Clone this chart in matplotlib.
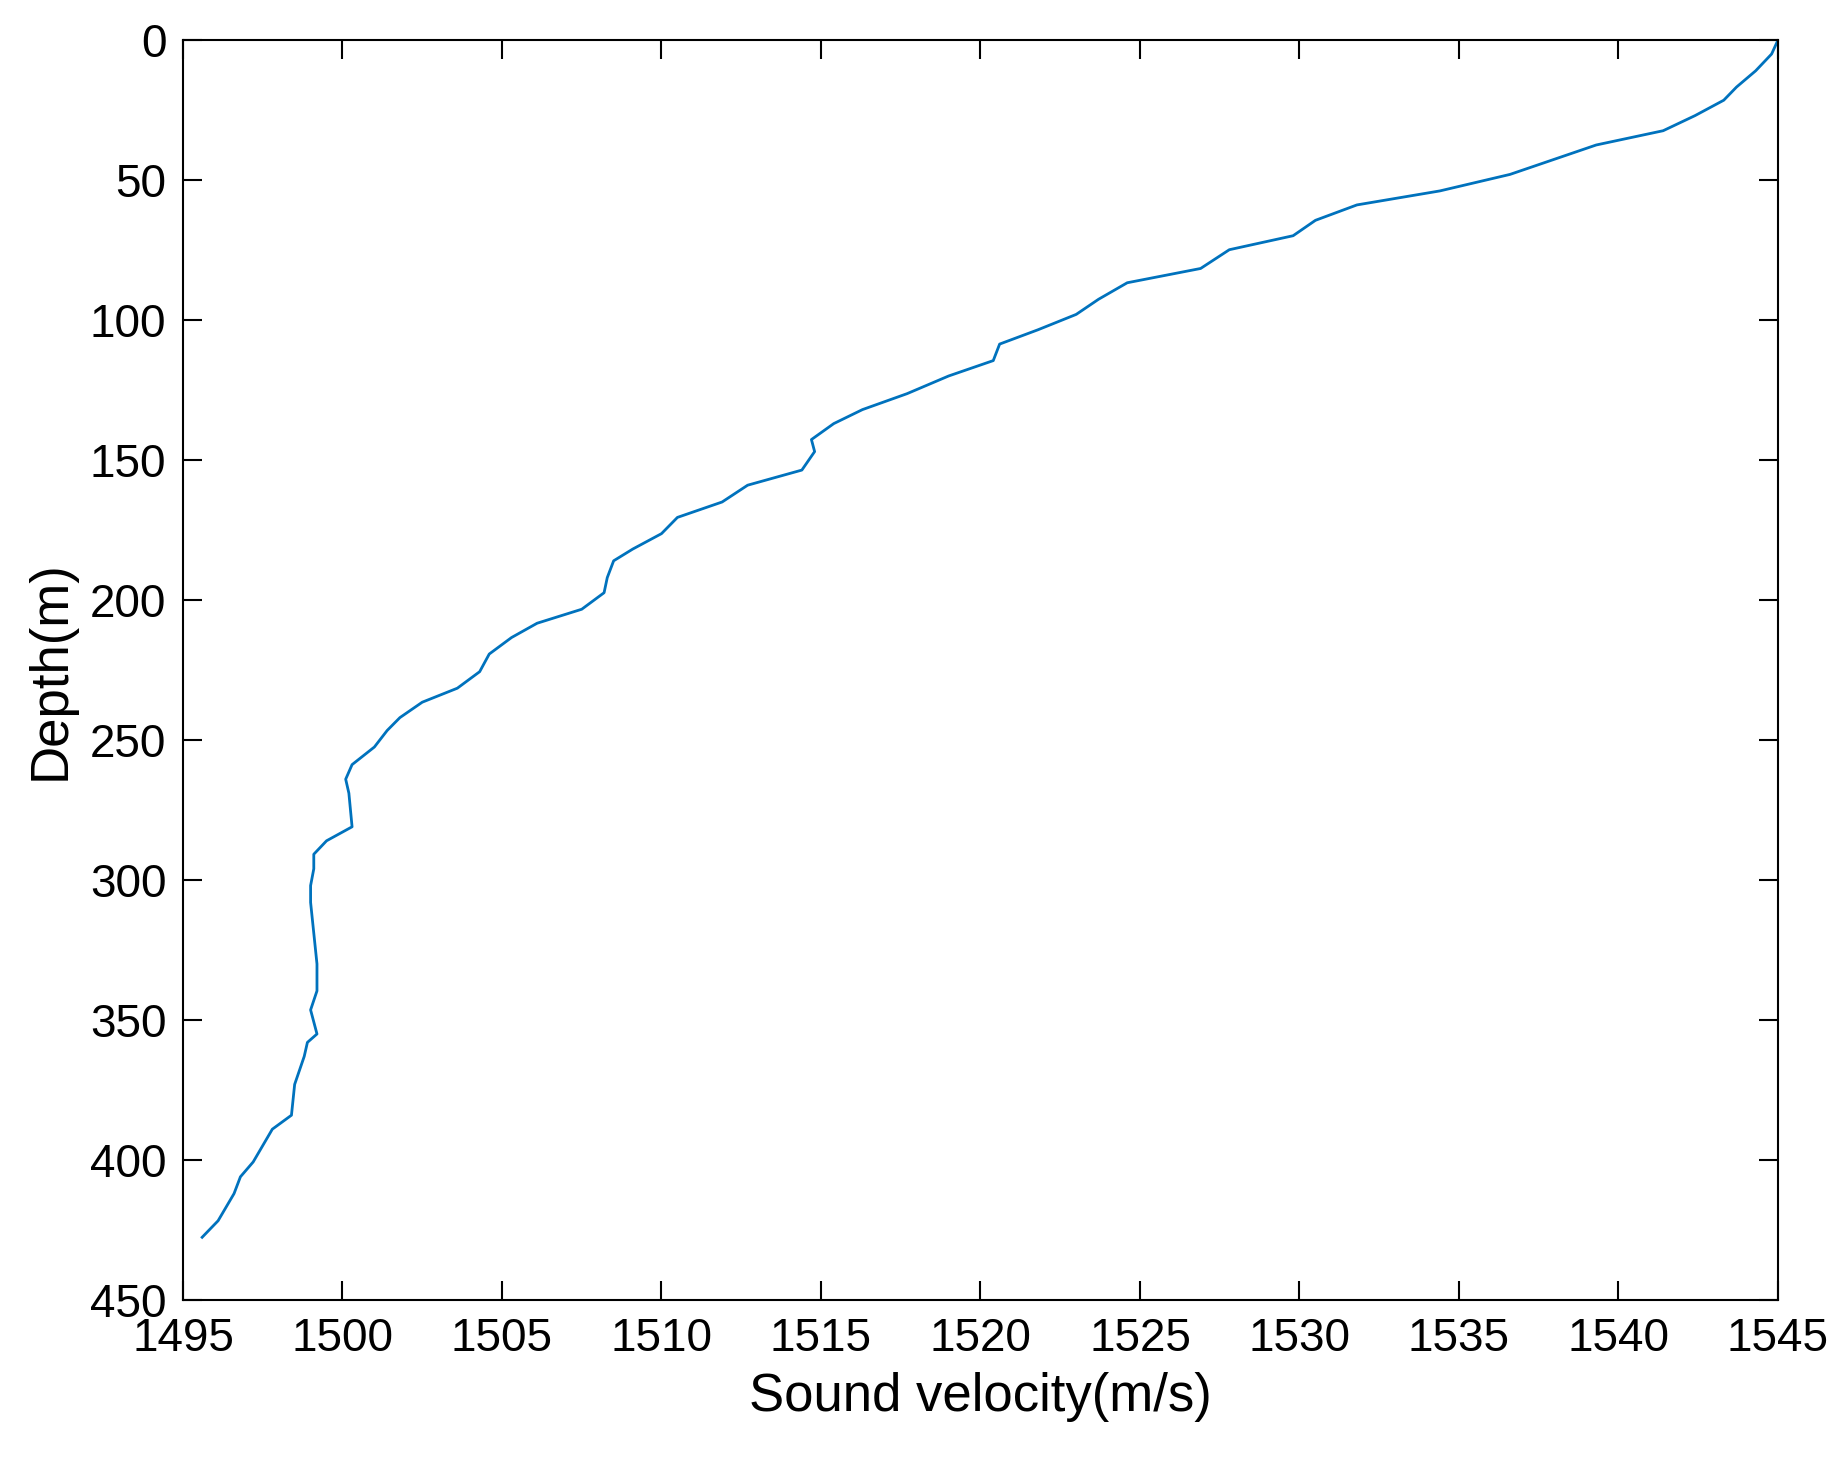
import matplotlib
matplotlib.use("Agg")
import matplotlib.pyplot as plt

velocity = [1545.0,1544.8,1544.3,1543.7,1543.3,1542.4,1541.4,1539.3,1536.6,1534.4,1531.8,1530.5,1529.8,
            1527.8,1526.9,1524.6,1523.7,1523.0,1521.8,1520.6,1520.4,1519.0,1517.7,1516.3,1515.4,1514.7,
            1514.8,1514.4,1512.7,1511.9,1510.5,1510.0,1509.1,1508.5,1508.3,1508.2,1507.5,1506.1,1505.3,
            1504.6,1504.3,1503.6,1502.5,1501.8,1501.4,1501.0,1500.3,1500.1,1500.2,1500.3,1499.5,1499.1,
            1499.1,1499.0,1499.0,1499.2,1499.2,1499.0,1499.2,1498.9,1498.8,1498.5,1498.4,1497.8,1497.2,
            1496.8,1496.6,1496.1,1495.6]
depth = [0,5,11,16.8,21.5,27,32.4,37.5,48,53.9,58.9,64.4,69.9,74.9,81.6,86.7,92.6,98,103.5,108.6,114.5,
         120,126.3,132,137,142.7,147,153.6,159,165,170.5,176.3,181.8,186,192,197.4,203.3,208.3,213.4,
         219.3,225.6,231.5,236.5,242,246.6,252.5,258.8,264,269,281,286,290.8,296,302,308,330,339.6,
         346.4,355,358,363,373,384,389,400.7,406,412,421.7,427.6]

plt.rcParams['font.family'] = ['Liberation Sans', 'DejaVu Sans']
fig = plt.figure(figsize=(18.4, 14.69), dpi=100)
ax = fig.add_axes([183/1840, 1-1300/1469, (1778-183)/1840, (1300-40)/1469])
ax.plot(velocity, depth, color='#0072BD', lw=2)
ax.set_xlim(1495, 1545)
ax.set_ylim(450, 0)
ax.set_xticks(range(1495, 1546, 5))
ax.set_yticks(range(0, 451, 50))
ax.tick_params(direction='in', length=14, width=1.5, labelsize=33, top=True, right=True, pad=12)
for s in ax.spines.values():
    s.set_linewidth(1.5)
ax.set_xlabel('Sound velocity(m/s)', fontsize=38, labelpad=8)
ax.set_ylabel('Depth(m)', fontsize=38, labelpad=10)
fig.savefig('out.png', dpi=100)
